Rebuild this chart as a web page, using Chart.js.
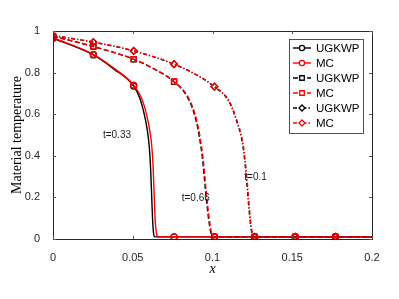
<!DOCTYPE html>
<html>
<head>
<meta charset="utf-8">
<script src="https://cdn.jsdelivr.net/npm/chart.js@4.4.0/dist/chart.umd.min.js"></script>
<style>
html,body{margin:0;padding:0;background:#fff;}
</style>
</head>
<body>
<canvas id="canvas" width="399" height="299"></canvas>
<script>
// x positions where markers are drawn
var markerX = [0, 0.0253, 0.0506, 0.0759, 0.1012, 0.1265, 0.1518, 0.1771];

// t=0.33 (solid, circles)
var ugkwp1X = [0, 0.0253, 0.038, 0.0506, 0.0545, 0.0572, 0.0592, 0.0604, 0.0612, 0.0618, 0.0624, 0.0630, 0.0638, 0.0759, 0.1012, 0.1265, 0.1518, 0.1771, 0.2];
var ugkwp1Y = [0.965, 0.885, 0.818, 0.735, 0.675, 0.60, 0.52, 0.44, 0.34, 0.22, 0.10, 0.03, 0.01, 0.01, 0.01, 0.01, 0.01, 0.01, 0.01];
var mc1X = [0, 0.0253, 0.038, 0.0506, 0.0556, 0.0586, 0.0607, 0.0620, 0.0628, 0.0634, 0.0640, 0.0648, 0.066, 0.0759, 0.1012, 0.1265, 0.1518, 0.1771, 0.2];
var mc1Y = [0.968, 0.888, 0.822, 0.74, 0.675, 0.60, 0.52, 0.44, 0.34, 0.22, 0.10, 0.03, 0.01, 0.01, 0.01, 0.01, 0.01, 0.01, 0.01];

// t=0.66 (dashed, squares)
var ugkwp2X = [0, 0.0253, 0.0506, 0.0632, 0.0759, 0.0847, 0.0900, 0.0935, 0.0956, 0.0975, 0.0990, 0.1012, 0.1265, 0.1518, 0.1771, 0.2];
var ugkwp2Y = [0.975, 0.925, 0.864, 0.818, 0.756, 0.676, 0.56, 0.40, 0.235, 0.10, 0.03, 0.01, 0.01, 0.01, 0.01, 0.01];
var mc2X = [0, 0.0253, 0.0506, 0.0632, 0.0759, 0.0851, 0.0904, 0.0939, 0.0960, 0.0979, 0.0994, 0.1012, 0.1265, 0.1518, 0.1771, 0.2];
var mc2Y = [0.976, 0.926, 0.865, 0.819, 0.757, 0.676, 0.56, 0.40, 0.235, 0.10, 0.03, 0.01, 0.01, 0.01, 0.01, 0.01];

// t=0.1 (dash-dot, diamonds)
var ugkwp3X = [0, 0.0253, 0.0506, 0.0759, 0.092, 0.1012, 0.1100, 0.1150, 0.1190, 0.1212, 0.1228, 0.1244, 0.1265, 0.1518, 0.1771, 0.2];
var ugkwp3Y = [0.978, 0.946, 0.904, 0.84, 0.78, 0.732, 0.665, 0.57, 0.45, 0.30, 0.15, 0.04, 0.01, 0.01, 0.01, 0.01];
var mc3X = [0, 0.0253, 0.0506, 0.0759, 0.092, 0.1012, 0.1103, 0.1153, 0.1193, 0.1215, 0.1231, 0.1247, 0.1265, 0.1518, 0.1771, 0.2];
var mc3Y = [0.979, 0.947, 0.905, 0.841, 0.781, 0.733, 0.665, 0.57, 0.45, 0.30, 0.15, 0.04, 0.01, 0.01, 0.01, 0.01];

var seriesNames = ["UGKWP", "MC", "UGKWP", "MC", "UGKWP", "MC"];
var xTicks = [0, 0.05, 0.1, 0.15, 0.2];
var yTicks = [0, 0.2, 0.4, 0.6, 0.8, 1];

// curve labels
var noteText = ["t=0.33", "t=0.66", "t=0.1"];
var noteX = [0.0401, 0.0895, 0.1270];
var noteY = [0.50, 0.197, 0.298];

function toPoints(xs, ys){
	var pts = new Array();
	for(var i = 0; i < xs.length; i++){
		pts.push({x: xs[i], y: ys[i]});
	}
	return pts;
}
function isMarker(x){
	for(var i = 0; i < markerX.length; i++){
		if(Math.abs(markerX[i] - x) < 1e-6){ return true; }
	}
	return false;
}

var dashStyles = [[], [], [5, 2.5], [5, 2.5], [4, 2, 1.2, 2], [4, 2, 1.2, 2]];
var colors = ["#000000", "#ff0000", "#000000", "#ff0000", "#000000", "#ff0000"];
var styles = ["circle", "circle", "rect", "rect", "rectRot", "rectRot"];
var radii = [3, 3, 3.6, 3.6, 3.4, 3.4];
var xs = [ugkwp1X, mc1X, ugkwp2X, mc2X, ugkwp3X, mc3X];
var ys = [ugkwp1Y, mc1Y, ugkwp2Y, mc2Y, ugkwp3Y, mc3Y];

var datasets = new Array();
for(var i = 0; i < 6; i++){
	(function(i){
		datasets.push({
			label: seriesNames[i],
			data: toPoints(xs[i], ys[i]),
			borderColor: colors[i],
			borderWidth: 1.4,
			borderDash: dashStyles[i],
			pointStyle: styles[i],
			pointBorderColor: colors[i],
			pointBackgroundColor: "rgba(0,0,0,0)",
			pointBorderWidth: 1.3,
			pointRadius: function(c){ return isMarker(c.raw.x) ? radii[i] : 0; },
			pointHoverRadius: 0,
			showLine: true,
			fill: false,
			cubicInterpolationMode: "monotone",
			order: 5 - i
		});
	})(i);
}

var frame = {
	id: "frame",
	afterDatasetsDraw: function(chart){
		var ctx = chart.ctx;
		var a = chart.chartArea;
		var sx = chart.scales.x, sy = chart.scales.y;
		ctx.save();
		ctx.strokeStyle = "#262626";
		ctx.lineWidth = 1;
		ctx.strokeRect(Math.round(a.left) + 0.5, Math.round(a.top) + 0.5, Math.round(a.right - a.left), Math.round(a.bottom - a.top));
		ctx.strokeStyle = "#555";
		ctx.beginPath();
		for(var i = 0; i < xTicks.length; i++){
			var px = Math.round(sx.getPixelForValue(xTicks[i])) + 0.5;
			ctx.moveTo(px, a.bottom); ctx.lineTo(px, a.bottom - 3);
			ctx.moveTo(px, a.top); ctx.lineTo(px, a.top + 3);
		}
		for(var j = 0; j < yTicks.length; j++){
			var py = Math.round(sy.getPixelForValue(yTicks[j])) + 0.5;
			ctx.moveTo(a.left, py); ctx.lineTo(a.left + 3, py);
			ctx.moveTo(a.right, py); ctx.lineTo(a.right - 3, py);
		}
		ctx.stroke();

		// curve labels
		ctx.fillStyle = "#1a1a1a";
		ctx.font = '10px "Liberation Sans"';
		ctx.textAlign = "center";
		ctx.textBaseline = "middle";
		for(var k = 0; k < noteText.length; k++){
			ctx.fillText(noteText[k], sx.getPixelForValue(noteX[k]), sy.getPixelForValue(noteY[k]));
		}

		// legend
		var lx = 289, ly = 39, lw = 74, lh = 94;
		ctx.fillStyle = "#fff";
		ctx.fillRect(lx, ly, lw, lh);
		ctx.strokeStyle = "#262626";
		ctx.lineWidth = 0.8;
		ctx.strokeRect(lx + 0.5, ly + 0.5, lw, lh);
		ctx.font = '11.5px "Liberation Sans"';
		ctx.textAlign = "left";
		for(var m = 0; m < 6; m++){
			var yy = ly + 9 + m * 15;
			ctx.strokeStyle = colors[m];
			ctx.lineWidth = 1.4;
			ctx.setLineDash(m < 2 ? [] : (m < 4 ? [5, 2] : [4, 2, 1.5, 2]));
			ctx.beginPath();
			ctx.moveTo(lx + 4, yy); ctx.lineTo(lx + 22, yy);
			ctx.stroke();
			ctx.setLineDash([]);
			ctx.lineWidth = 1.3;
			ctx.fillStyle = "#fff";
			Chart.helpers.drawPoint(ctx, {pointStyle: styles[m], radius: radii[m] - 0.4, rotation: 0, borderWidth: 1.3}, lx + 13, yy);
			ctx.fillStyle = "#000";
			ctx.fillText(seriesNames[m], lx + 27, yy + 1);
		}
		ctx.restore();
	}
};

var ctx = document.getElementById("canvas").getContext("2d");
var chart = new Chart(ctx, {
	type: "scatter",
	data: {datasets: datasets},
	options: {
		responsive: false,
		animation: false,
		devicePixelRatio: 1,
		layout: {padding: {top: 31, right: 27, left: 0, bottom: 0}},
		plugins: {legend: {display: false}, tooltip: {enabled: false}},
		scales: {
			x: {
				type: "linear", min: 0, max: 0.2,
				grid: {display: false},
				border: {display: false},
				afterFit: function(s){ s.height = 60; },
				afterBuildTicks: function(s){ s.ticks = xTicks.map(function(v){ return {value: v}; }); },
				ticks: {
					padding: 4, color: "#262626",
					font: {family: "Liberation Sans", size: 11},
					callback: function(v){ return String(Number(v.toFixed(2))); }
				},
				title: {display: true, text: "x", color: "#000", padding: {top: 0, bottom: 21},
					font: {family: "Liberation Serif", size: 14, style: "italic"}}
			},
			y: {
				type: "linear", min: 0, max: 1,
				grid: {display: false},
				border: {display: false},
				afterFit: function(s){ s.width = 53; },
				afterBuildTicks: function(s){ s.ticks = yTicks.map(function(v){ return {value: v}; }); },
				ticks: {
					padding: 5, color: "#262626",
					font: {family: "Liberation Sans", size: 11},
					callback: function(v){ return String(Number(v.toFixed(1))); }
				},
				title: {display: true, text: "Material temperature", color: "#000", padding: {top: 9, bottom: 0},
					font: {family: "Liberation Serif", size: 14}}
			}
		}
	},
	plugins: [frame]
});
</script>
</body>
</html>
